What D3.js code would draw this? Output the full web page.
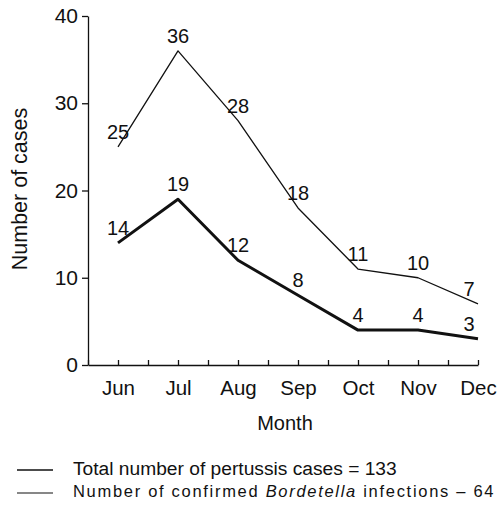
<!DOCTYPE html>
<meta charset="utf-8">
<style>
body { margin: 0; background: #fff; }
svg text { font-family: "Liberation Sans", Arial, Helvetica, sans-serif; fill: #111; }
.axis path, .axis line { stroke: #111; stroke-width: 1.3; }
.line { fill: none; stroke: #111; stroke-linejoin: round; }
</style>
<body>
<svg width="498" height="505"></svg>
<script src="https://d3js.org/d3.v7.min.js"></script>
<script>

var months = ["Jun", "Jul", "Aug", "Sep", "Oct", "Nov", "Dec"];
var totalCases = [25, 36, 28, 18, 11, 10, 7];
var confirmedCases = [14, 19, 12, 8, 4, 4, 3];
var yTicks = [0, 10, 20, 30, 40];
var legendLabels = ["Total number of pertussis cases = 133", "Number of confirmed Bordetella infections \u2013 64"];

var svg = d3.select("svg");

// month index -> pixel, half-month minor ticks
var x = d3.scaleLinear()
    .domain([-0.5, 6])
    .range([88, 478]);

var y = d3.scaleLinear()
    .domain([0, 40])
    .range([365, 16]);

// y axis
svg.append("g")
    .attr("class", "axis")
    .attr("transform", "translate(88,0)")
    .call(d3.axisLeft(y).tickValues(yTicks).tickSize(6).tickSizeOuter(0).tickPadding(4))
    .selectAll("text")
      .attr("font-size", "21px");

// x axis, ticks pointing up
svg.append("g")
    .attr("class", "axis")
    .attr("transform", "translate(0,365)")
    .call(d3.axisBottom(x)
      .tickValues(d3.range(-0.5, 6.01, 0.5))
      .tickSizeInner(-5)
      .tickSizeOuter(0)
      .tickPadding(15)
      .tickFormat(function(d) { return Number.isInteger(d) ? months[d] : ""; }))
    .selectAll("text")
      .attr("font-size", "20.5px");

svg.selectAll(".axis .domain").attr("stroke-width", 1.6);

// axis titles
svg.append("text")
    .attr("transform", "translate(27,189) rotate(-90)")
    .attr("text-anchor", "middle")
    .attr("font-size", "21.5px")
    .text("Number of cases");

svg.append("text")
    .attr("x", 285)
    .attr("y", 430)
    .attr("text-anchor", "middle")
    .attr("font-size", "20px")
    .text("Month");

var line = d3.line()
    .x(function(d, i) { return x(i); })
    .y(function(d) { return y(d); });

svg.append("path")
    .datum(totalCases)
    .attr("class", "line")
    .attr("stroke-width", 1.3)
    .attr("d", line);

svg.append("path")
    .datum(confirmedCases)
    .attr("class", "line")
    .attr("stroke-width", 3)
    .attr("d", line);

// value labels
[totalCases, confirmedCases].forEach(function(series) {
  svg.append("g").selectAll("text")
    .data(series)
    .enter().append("text")
      .attr("x", function(d, i) { return x(i) + (i === 6 ? -9 : 0); })
      .attr("y", function(d) { return y(d) - 8; })
      .attr("text-anchor", "middle")
      .attr("font-size", "20px")
      .text(function(d) { return d; });
});

// legend
var legend = svg.append("g");

legend.selectAll("line")
    .data(legendLabels)
    .enter().append("line")
      .attr("x1", 17)
      .attr("x2", 53)
      .attr("y1", function(d, i) { return 470 + i * 23; })
      .attr("y2", function(d, i) { return 470 + i * 23; })
      .attr("stroke", "#111")
      .attr("stroke-width", function(d, i) { return i === 0 ? 1.5 : 1.2; });

legend.append("text")
    .attr("x", 73)
    .attr("y", 475)
    .attr("font-size", "19.2px")
    .text(legendLabels[0]);

var l2 = legend.append("text")
    .attr("x", 73)
    .attr("y", 497)
    .attr("font-size", "16.5px")
    .attr("letter-spacing", "1.7px");
l2.append("tspan").text("Number of confirmed ");
l2.append("tspan").attr("font-style", "italic").text("Bordetella");
l2.append("tspan").text(" infections \u2013 64");

</script>
</body>
